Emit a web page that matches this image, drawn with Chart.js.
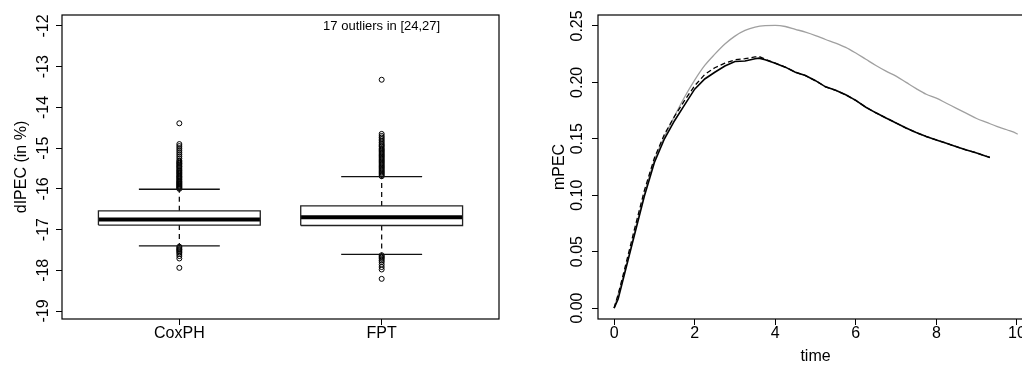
<!DOCTYPE html>
<html>
<head>
<meta charset="utf-8">
<script src="https://cdn.jsdelivr.net/npm/chart.js@4.4.1/dist/chart.umd.min.js"></script>
<style>
  html, body { margin: 0; padding: 0; background: #fff; overflow: hidden; width: 1022px; height: 365px; }
  canvas { position: absolute; top: 0; }
  #boxChart  { left: 0; }
  #lineChart { left: 510px; }
</style>
</head>
<body>
<canvas id="boxChart" width="510" height="365"></canvas>
<canvas id="lineChart" width="540" height="365"></canvas>
<script>
// ── Data: boxplot (left panel) ───────────────────────────────────────────────
const GROUPS      = ["CoxPH", "FPT"];
const BOX_Q1      = [-16.89, -16.90];
const BOX_MEDIAN  = [-16.75, -16.70];
const BOX_Q3      = [-16.54, -16.42];
const WHISK_LOW   = [-17.40, -17.61];
const WHISK_HIGH  = [-16.01, -15.70];
const OUTLIERS_COX = [
  -14.39, -14.90, -14.95, -15.00, -15.05, -15.10, -15.15, -15.20, -15.25,
  -15.30, -15.33, -15.36, -15.38, -15.41, -15.44, -15.46, -15.49, -15.52,
  -15.55, -15.57, -15.60, -15.62, -15.65, -15.68, -15.70, -15.72, -15.75,
  -15.77, -15.80, -15.82, -15.84, -15.86, -15.88, -15.90, -15.92, -15.94,
  -15.96, -15.98, -16.00,
  -17.42, -17.45, -17.48, -17.50, -17.53, -17.56, -17.60, -17.65, -17.71, -17.94,
];
const OUTLIERS_FPT = [
  -13.32, -14.65, -14.70, -14.74, -14.78, -14.82, -14.86, -14.90, -14.93,
  -14.96, -15.00, -15.03, -15.06, -15.09, -15.12, -15.15, -15.18, -15.21,
  -15.24, -15.27, -15.30, -15.33, -15.36, -15.39, -15.42, -15.45, -15.48,
  -15.51, -15.54, -15.57, -15.60, -15.63, -15.66, -15.69,
  -17.63, -17.66, -17.69, -17.72, -17.76, -17.80, -17.86, -17.92, -17.98, -18.21,
];
const OUTLIERS    = [OUTLIERS_COX, OUTLIERS_FPT];
const DIPEC_TICKS = [-19, -18, -17, -16, -15, -14, -13, -12];
const NOTE_TEXT   = "17 outliers in [24,27]";
const NOTE_AT     = { x: 2, y: -12 };

// ── Data: mPEC curves (right panel) ──────────────────────────────────────────
const TIME_FIT = [0, 0.1, 0.25, 0.5, 0.75, 1, 1.25, 1.5, 1.75, 2, 2.25, 2.5, 2.75,
  3, 3.25, 3.5, 3.6, 3.75, 4, 4.25, 4.5, 4.75, 5, 5.25, 5.5, 5.75, 6, 6.25, 6.5,
  6.75, 7, 7.25, 7.5, 7.75, 8, 8.25, 8.5, 8.75, 9, 9.2, 9.33];
const MPEC_SOLID = [0, 0.008, 0.029, 0.064, 0.099, 0.129, 0.150, 0.166, 0.180,
  0.194, 0.203, 0.209, 0.2145, 0.2185, 0.219, 0.221, 0.2215, 0.220, 0.217, 0.2135,
  0.209, 0.206, 0.2015, 0.196, 0.193, 0.189, 0.184, 0.178, 0.173, 0.1685, 0.164,
  0.1595, 0.1555, 0.152, 0.149, 0.146, 0.143, 0.140, 0.1375, 0.135, 0.1335];
const MPEC_DASHED = [0, 0.012, 0.033, 0.069, 0.104, 0.133, 0.154, 0.170, 0.184,
  0.197, 0.207, 0.213, 0.217, 0.220, 0.221, 0.2225, 0.223, 0.2205, 0.217, 0.2135,
  0.209, 0.206, 0.2015, 0.196, 0.193, 0.189, 0.184, 0.178, 0.173, 0.1685, 0.164,
  0.1595, 0.1555, 0.152, 0.149, 0.146, 0.143, 0.140, 0.1375, 0.135, 0.1335];
const TIME_TRUE = [0, 0.25, 0.5, 0.75, 1, 1.25, 1.5, 1.75, 2, 2.25, 2.5, 2.75, 3,
  3.25, 3.5, 3.75, 4, 4.25, 4.5, 4.75, 5, 5.25, 5.5, 5.75, 6, 6.25, 6.5, 6.75, 7,
  7.25, 7.5, 7.75, 8, 8.25, 8.5, 8.75, 9, 9.25, 9.5, 9.75, 10, 10.02];
const MPEC_TRUE = [0, 0.031, 0.066, 0.101, 0.131, 0.152, 0.170, 0.187, 0.202,
  0.215, 0.225, 0.234, 0.241, 0.246, 0.249, 0.2503, 0.2505, 0.2495, 0.247, 0.2445,
  0.2415, 0.238, 0.2348, 0.231, 0.226, 0.2205, 0.215, 0.210, 0.2055, 0.200, 0.1945,
  0.1895, 0.186, 0.1815, 0.177, 0.1725, 0.168, 0.1645, 0.161, 0.158, 0.1545, 0.154];
const TIME_TICKS = [0, 2, 4, 6, 8, 10];
const MPEC_TICKS = [0, 0.05, 0.10, 0.15, 0.20, 0.25];

// ── Shared styling ───────────────────────────────────────────────────────────
const FONT      = { family: "'Liberation Sans', Arial, sans-serif", size: 16, lineHeight: 1 };
const NOTE_FONT = "13px 'Liberation Sans', Arial, sans-serif";
const BOX_WIDTH    = 0.8;
const STAPLE_WIDTH = 0.4;

// Frame around the plot region (R's box())
const framePlugin = {
  id: "frame",
  afterDraw(chart) {
    const { ctx, chartArea: a } = chart;
    ctx.save();
    ctx.strokeStyle = "#000";
    ctx.lineWidth = 1.2;
    ctx.strokeRect(a.left, a.top, a.right - a.left, a.bottom - a.top);
    ctx.restore();
  },
};

function axisBase(ticks, extra) {
  return Object.assign({
    type: "linear",
    afterBuildTicks: (s) => { s.ticks = ticks.map((v) => ({ value: v })); },
    border: { display: false },
    grid: { display: true, drawOnChartArea: false, drawTicks: true, tickLength: 6, tickColor: "#000" },
  }, extra);
}

function seg(points, style) {
  return Object.assign({
    data: points.map(([x, y]) => ({ x, y })),
    showLine: true, pointRadius: 0, borderColor: "#111", borderWidth: 1.3, fill: false,
  }, style);
}

// ── Boxplot datasets ─────────────────────────────────────────────────────────
function boxDatasets(i) {
  const c = i + 1, h = BOX_WIDTH / 2, s = STAPLE_WIDTH / 2;
  return [
    seg([[c - h, BOX_Q1[i]], [c + h, BOX_Q1[i]], [c + h, BOX_Q3[i]], [c - h, BOX_Q3[i]], [c - h, BOX_Q1[i]]],
        { borderColor: "#222" }),
    seg([[c - h, BOX_MEDIAN[i]], [c + h, BOX_MEDIAN[i]]], { borderWidth: 4, borderColor: "#000" }),
    seg([[c, BOX_Q3[i]], [c, WHISK_HIGH[i]]], { borderDash: [5, 4] }),
    seg([[c, BOX_Q1[i]], [c, WHISK_LOW[i]]], { borderDash: [5, 4] }),
    seg([[c - s, WHISK_HIGH[i]], [c + s, WHISK_HIGH[i]]], {}),
    seg([[c - s, WHISK_LOW[i]], [c + s, WHISK_LOW[i]]], {}),
    {
      data: OUTLIERS[i].map((y) => ({ x: c, y })),
      showLine: false, pointStyle: "circle", pointRadius: 2.5,
      pointBorderColor: "#000", pointBackgroundColor: "rgba(0,0,0,0)", pointBorderWidth: 1,
    },
  ];
}

const notePlugin = {
  id: "note",
  afterDatasetsDraw(chart) {
    const { ctx, scales } = chart;
    ctx.save();
    ctx.font = NOTE_FONT;
    ctx.fillStyle = "#000";
    ctx.textAlign = "center";
    ctx.textBaseline = "middle";
    ctx.fillText(NOTE_TEXT, scales.x.getPixelForValue(NOTE_AT.x), scales.y.getPixelForValue(NOTE_AT.y));
    ctx.restore();
  },
};

new Chart(document.getElementById("boxChart"), {
  type: "scatter",
  data: { datasets: GROUPS.flatMap((_, i) => boxDatasets(i)) },
  options: {
    responsive: false,
    animation: false,
    layout: { padding: { left: 0, right: 11, top: 15, bottom: 0 } },
    plugins: { legend: { display: false }, tooltip: { enabled: false } },
    scales: {
      x: axisBase([1, 2], {
        min: 0.42, max: 2.58,
        afterFit: (s) => { s.height = 46; },
        ticks: { color: "#000", font: FONT, padding: 1, autoSkip: false, maxRotation: 0,
                 callback: (v) => GROUPS[v - 1] },
      }),
      y: axisBase(DIPEC_TICKS, {
        min: -19.196, max: -11.73,
        afterFit: (s) => { s.width = 62; },
        ticks: { color: "#000", font: FONT, padding: 1, autoSkip: false,
                 minRotation: 90, maxRotation: 90, crossAlign: "center",
                 callback: (v) => String(v) },
        title: { display: true, text: "dIPEC (in %)", color: "#000", font: FONT, padding: { top: 13.7 } },
      }),
    },
  },
  plugins: [framePlugin, notePlugin],
});

// ── mPEC line chart ──────────────────────────────────────────────────────────
function curve(times, values, style) {
  return Object.assign({
    data: times.map((t, k) => ({ x: t, y: values[k] })),
    showLine: true, pointRadius: 0, fill: false, tension: 0,
  }, style);
}

new Chart(document.getElementById("lineChart"), {
  type: "scatter",
  data: {
    datasets: [
      curve(TIME_FIT, MPEC_SOLID,  { borderColor: "#000", borderWidth: 1.6 }),
      curve(TIME_FIT, MPEC_DASHED, { borderColor: "#000", borderWidth: 1.3, borderDash: [5, 3] }),
      curve(TIME_TRUE, MPEC_TRUE,  { borderColor: "#a0a0a0", borderWidth: 1.3, cubicInterpolationMode: "monotone" }),
    ],
  },
  options: {
    responsive: false,
    animation: false,
    layout: { padding: { left: 0, right: 17, top: 15, bottom: 0 } },
    plugins: { legend: { display: false }, tooltip: { enabled: false } },
    scales: {
      x: axisBase(TIME_TICKS, {
        min: -0.4, max: 10.4,
        afterFit: (s) => { s.height = 46; },
        ticks: { color: "#000", font: FONT, padding: 1, autoSkip: false, maxRotation: 0,
                 callback: (v) => String(v) },
        title: { display: true, text: "time", color: "#000", font: FONT, padding: { top: 0, bottom: 0 } },
      }),
      y: axisBase(MPEC_TICKS, {
        min: -0.0097, max: 0.2597,
        afterFit: (s) => { s.width = 88; },
        ticks: { color: "#000", font: FONT, padding: -1.3, autoSkip: false,
                 minRotation: 90, maxRotation: 90, crossAlign: "center",
                 callback: (v) => v.toFixed(2) },
        title: { display: true, text: "mPEC", color: "#000", font: FONT, padding: { top: 42 } },
      }),
    },
  },
  plugins: [framePlugin],
});
</script>
</body>
</html>
